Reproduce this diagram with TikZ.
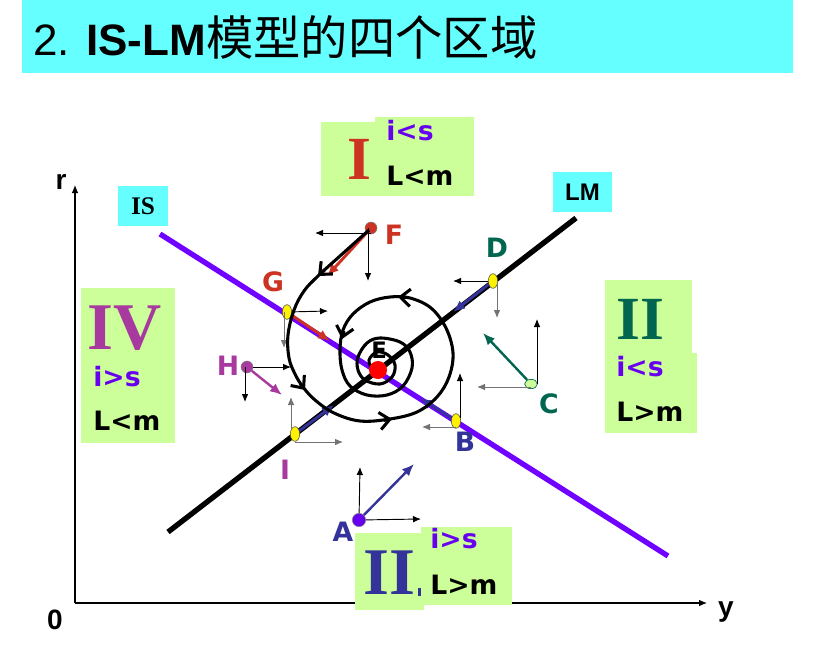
\documentclass[tikz,border=0pt]{standalone}
\usepackage{fontspec}
\setmainfont{Liberation Sans}
\newfontfamily\cjk{Noto Sans CJK SC}
\newfontfamily\vfont{DejaVu Sans}
\newfontfamily\tfont{Liberation Serif}
\usetikzlibrary{arrows.meta,shapes.geometric}
\definecolor{cyanbg}{HTML}{66FFFF}
\definecolor{lgreen}{HTML}{CCFF99}
\definecolor{isviolet}{HTML}{7000FF}
\definecolor{dblue}{HTML}{333399}
\definecolor{dgreen}{HTML}{00664F}
\definecolor{fred}{HTML}{CC3322}
\definecolor{mag}{HTML}{A8399F}
\definecolor{ptxt}{HTML}{6600EE}
\begin{document}
\begin{tikzpicture}[x=0.75pt,y=-0.75pt,
  thinarr/.style={-{Latex[length=6pt,width=5pt]}, line width=0.7pt},
  grayarr/.style={thinarr, draw=black!55},
  fatarr/.style={-{Latex[length=9pt,width=7.5pt]}, line width=2.2pt},
  spiral/.style={line width=2.3pt, line join=round},
  barb/.style={-{Straight Barb[length=7.5pt,width=13pt,line width=2.3pt]}, line width=2.3pt},
  yell/.style={ellipse, draw=black!70, line width=0.4pt, fill=yellow, minimum width=7pt, minimum height=11pt, inner sep=0pt},
  cgreen/.style={ellipse, draw=dgreen, line width=0.5pt, fill=lgreen, minimum width=9.5pt, minimum height=7pt, inner sep=0pt},
  dot/.style={circle, inner sep=0pt, minimum size=#1},
  ptlabel/.style={font=\vfont\bfseries\fontsize{20}{20}\selectfont, inner sep=0pt},
  cond/.style={font=\vfont\bfseries\fontsize{20}{20}\selectfont, inner sep=0pt, anchor=west},
  roman/.style={font=\tfont\bfseries\fontsize{46}{46}\selectfont, inner sep=0pt},
  axlabel/.style={font=\bfseries\fontsize{21}{21}\selectfont, inner sep=0pt},
  tag/.style={fill=cyanbg, inner sep=0pt, minimum height=30pt}
]
\useasboundingbox (0,0) rectangle (816,646);
% title band
\fill[cyanbg] (22,0) rectangle (793,73);
\node[anchor=base west, inner sep=0pt] (title) at (33,55)
  {\fontsize{33}{33}\selectfont 2. \textbf{IS-LM}{\cjk\fontsize{35.5}{35.5}\selectfont 模型的四个区域}};

% axes
\coordinate (O) at (75,603);
\coordinate (rtop) at (75,185);
\coordinate (yend) at (707,603);
\draw[thinarr, line width=0.8pt] (O) -- (rtop);
\draw[thinarr, line width=0.8pt] (O) -- (yend);
\node[axlabel] (r) at (61,182) {r};
\node[axlabel] (zero) at (55,620) {0};
\node[axlabel] (ylab) at (726,612) {y};

% region boxes
\fill[lgreen] (321,122) rectangle (474,196);
\fill[lgreen] (375,117) rectangle (474,122);
\node[roman, text=fred] (rI) at (359,159) {I};
\node[cond, text=ptxt] (c1) at (386,131) {i<s};
\node[cond] (d1) at (386,176) {L<m};

\fill[lgreen] (81,288) rectangle (175,443);
\node[roman, text=mag, font=\tfont\bfseries\fontsize{50}{50}\selectfont] (rIV) at (125,328) {IV};
\node[cond, text=ptxt] (c4) at (93,377) {i>s};
\node[cond] (d4) at (93,421) {L<m};

\fill[lgreen] (605,280) rectangle (692,353);
\fill[lgreen] (605,353) rectangle (697,433);
\node[roman, text=dgreen] (rII) at (640,319) {II};
\node[cond, text=ptxt] (c2) at (616,367) {i<s};
\node[cond] (d2) at (616,412) {L>m};

\fill[lgreen] (355,533) rectangle (424,610);
\node[roman, text=dblue, anchor=west, font=\tfont\bfseries\fontsize{50}{50}\selectfont] (rIII) at (363,573) {II};
\fill[dblue] (418,588) rectangle (421,596);
\fill[lgreen] (421,527) rectangle (512,605);
\node[cond, text=ptxt] (c3) at (430,539) {i>s};
\node[cond] (d3) at (430,585) {L>m};

% IS and LM curves
\coordinate (IS1) at (160,234);
\coordinate (IS2) at (668,556);
\coordinate (LM1) at (168,532);
\coordinate (LM2) at (576,218);
\draw[isviolet, line width=4pt] (IS1) -- (IS2);
\draw[black, line width=4pt] (LM1) -- (LM2);
\node[tag, minimum width=37.5pt, font=\tfont\bfseries\fontsize{19}{19}\selectfont] (istag) at (143,206) {IS};
\node[tag, minimum width=44pt, font=\bfseries\fontsize{18}{18}\selectfont] (lmtag) at (582.5,192) {LM};

% points
\node[dot=9pt, fill=fred, draw=black!50, line width=0.4pt] (F) at (371,228) {};
\node[yell] (G) at (287,312) {};
\node[dot=9pt, fill=mag, draw=black!50, line width=0.4pt] (H) at (247,367) {};
\node[yell] (I) at (295,434) {};
\node[dot=10pt, fill=ptxt, draw=black!50, line width=0.4pt] (A) at (359,520) {};
\node[yell] (B) at (456,421) {};
\node[cgreen] (C) at (531,384) {};
\node[yell] (D) at (493,281) {};

% thin direction arrows
\coordinate (Fl) at (315,233); \coordinate (Fd) at (368,281);
\draw[thinarr] ([yshift=-3.75pt]F.center) -- (Fl);
\draw[thinarr] ([xshift=-2.25pt]F.center) -- (Fd);
\coordinate (Gr) at (328,311); \coordinate (Gd) at (284,348);
\draw[thinarr] (G) -- (Gr);
\draw[grayarr] ([xshift=-2.25pt]G.center) -- (Gd);
\coordinate (Hr) at (291,367); \coordinate (Hd) at (245,402);
\draw[thinarr] (H) -- (Hr);
\draw[thinarr] ([xshift=-1.5pt]H.center) -- (Hd);
\coordinate (Iu) at (291,397); \coordinate (Ir) at (343,442);
\draw[grayarr] ([xshift=-3pt,yshift=3pt]I.center) -- (Iu);
\draw[grayarr] ([yshift=-6pt]I.center) -- (Ir);
\coordinate (Au) at (360,467); \coordinate (Ar) at (421,519);
\draw[thinarr] (A) -- (Au);
\draw[thinarr] (A) -- (Ar);
\coordinate (Bl) at (422,427); \coordinate (Bu) at (460,373);
\draw[grayarr] ([yshift=-4.5pt]B.center) -- (Bl);
\draw[thinarr] ([xshift=3pt,yshift=2pt]B.center) -- (Bu);
\coordinate (Cl) at (477,387); \coordinate (Cu) at (537,319);
\draw[grayarr] ([yshift=-2.25pt]C.center) -- (Cl);
\draw[thinarr] ([xshift=4.5pt]C.center) -- (Cu);
\coordinate (Dl) at (453,281); \coordinate (Dd) at (497,318);
\draw[thinarr] (D) -- (Dl);
\draw[grayarr] ([xshift=3pt]D.center) -- (Dd);

% coloured movement arrows
\coordinate (Fm) at (327,276);
\coordinate (Gm) at (330,341);
\coordinate (Hm) at (282,395);
\coordinate (Im) at (334,405);
\coordinate (Am) at (414,464);
\coordinate (Bm) at (420,398);
\coordinate (Cm) at (483,333);
\coordinate (Dm) at (453,312);
\draw[fatarr, fred] (F) -- (Fm);
\draw[fatarr, fred] (G) -- (Gm);
\draw[fatarr, mag, line width=1.8pt] (H) -- (Hm);
\draw[fatarr, dblue] (I) -- (Im);
\draw[fatarr, dblue, line width=1.8pt] (A) -- (Am);
\draw[fatarr, dblue] (B) -- (Bm);
\draw[fatarr, dgreen, line width=1.8pt] (C) -- (Cm);
\draw[fatarr, dblue] (D) -- (Dm);

% adjustment spiral
\draw[spiral] plot[smooth, tension=0.6] coordinates {
 (369,230) (340,256) (318,276) (304,291) (294,310) (288,335) (289,358) (295,374) (303,387)
 (315,400) (334,413) (360,421) (390,419) (417,412) (437,397) (449,377) (453,353) (446,328)
 (431,308) (410,298) (390,297) (370,302) (353,314) (343,330) (340,350) (342,370) (350,386)
 (367,395) (387,395) (403,386) (412,368) (410,352) (400,342) (380,338) (367,343) (358,357)
 (358,370) (365,380) (380,384) (392,377) (395,365) (388,355) (377,352) (369,360) (372,369)};
\draw[barb] (325,269.5) -- (318,276);
\draw[barb] (300,383.5) -- (305,390);
\draw[barb] (384,420.3) -- (392,419);
\draw[barb] (406,297.5) -- (398,297);
\draw[barb] (344,331) -- (342,339);

% equilibrium
\node[dot=13.5pt, fill=red] (E) at (378,370) {};
\node[ptlabel, font=\vfont\bfseries\fontsize{17}{17}\selectfont] (Elab) at (379,350) {E};

% point labels
\node[ptlabel, text=fred] (Flab) at (394,235) {F};
\node[ptlabel, text=fred] (Glab) at (273,282) {G};
\node[ptlabel, text=mag] (Hlab) at (228,366) {H};
\node[ptlabel, text=mag] (Ilab) at (285,470) {I};
\node[ptlabel, text=dblue] (Alab) at (343,532) {A};
\node[ptlabel, text=dblue] (Blab) at (465,442) {B};
\node[ptlabel, text=dgreen] (Clab) at (549,404) {C};
\node[ptlabel, text=dgreen] (Dlab) at (497,248) {D};
\end{tikzpicture}
\end{document}
